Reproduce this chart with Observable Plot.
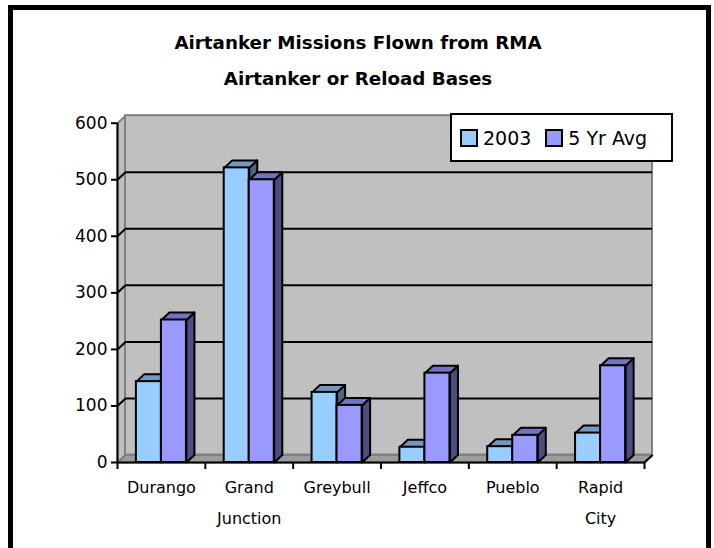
<!DOCTYPE html>
<html>
<head>
<meta charset="utf-8">
<script src="https://cdn.jsdelivr.net/npm/d3@7"></script>
<script src="https://cdn.jsdelivr.net/npm/@observablehq/plot@0.6"></script>
<style>
  body { margin: 0; background: #fff; }
  #wrap { position: relative; width: 714px; height: 548px; overflow: hidden; font-family: 'Comic Sans MS', 'DejaVu Sans', sans-serif; }
  #border { position: absolute; left: 8px; top: 5px; width: 693px; height: 600px; border: 5px solid #000; box-sizing: content-box; }
  #title { position: absolute; left: 0; width: 716px; top: 25px; text-align: center; font-weight: bold; font-size: 18.3px; line-height: 36px; color: #000; }
  #chart { position: absolute; left: 0; top: 0; }
  #legend { position: absolute; left: 450px; top: 113px; width: 219px; height: 45px; border: 2px solid #000; background: #fff; display: flex; align-items: center; font-size: 19px; }
  .sw { display: inline-block; width: 14px; height: 14px; border: 2px solid #000; margin-right: 5px; }
</style>
</head>
<body>
<div id="wrap">
  <div id="border"></div>
  <div id="title">Airtanker Missions Flown from RMA<br>Airtanker or Reload Bases</div>
  <div id="chart"></div>
  <div id="legend">
    <span class="sw" style="background:#99CCFF;margin-left:8px"></span><span>2003</span>
    <span class="sw" style="background:#9999FF;margin-left:14px"></span><span>5 Yr Avg</span>
  </div>
</div>
<script>
// ---- data ----
const categories = ["Durango", "Grand\nJunction", "Greybull", "Jeffco", "Pueblo", "Rapid\nCity"];
const series = ["2003", "5 Yr Avg"];
const values2003 = [143, 521, 124, 27, 28, 52];
const valuesAvg = [252, 500, 101, 158, 48, 171];
const yTicks = [0, 100, 200, 300, 400, 500, 600];

// ---- layout ----
const W = 714, H = 548;
const padL = 117, padR = 644, padB = 462, padT = 122.7;
const kx = (padR - padL) / categories.length;
const ky = (padB - padT) / 600;
const DX = 8 / kx;      // depth offset in x units
const DY = 7.5 / ky;    // depth offset in y units
const barW = 0.285;

const colors = {
  "2003": {front: "#99CCFF", top: "#7399BF", side: "#4D6680"},
  "5 Yr Avg": {front: "#9999FF", top: "#7373BF", side: "#4D4D80"}
};

const bars = [];
categories.forEach((c, i) => {
  bars.push({cat: c, s: "2003", x1: i + 0.5 - barW, x2: i + 0.5, v: values2003[i]});
  bars.push({cat: c, s: "5 Yr Avg", x1: i + 0.5, x2: i + 0.5 + barW, v: valuesAvg[i]});
});

function polys(list, fn) {
  const out = [];
  list.forEach((b, k) => fn(b).forEach(([x, y]) => out.push({k, x, y, s: b.s})));
  return out;
}
const topPts = polys(bars, b => [[b.x1, b.v], [b.x2, b.v], [b.x2 + DX, b.v + DY], [b.x1 + DX, b.v + DY], [b.x1, b.v]]);
const sidePts = polys(bars, b => [[b.x2, 0], [b.x2, b.v], [b.x2 + DX, b.v + DY], [b.x2 + DX, DY], [b.x2, 0]]);
const sideWall = [[0, 0], [0, 600], [DX, 600 + DY], [DX, DY], [0, 0]].map(([x, y]) => ({x, y}));
const floorPts = [[0, 0], [6, 0], [6 + DX, DY], [DX, DY], [0, 0]].map(([x, y]) => ({x, y}));

const faceMarks = [];
for (const s of series) {
  faceMarks.push(Plot.line(sidePts.filter(d => d.s === s), {x: "x", y: "y", z: "k", fill: colors[s].side, stroke: "#000", strokeWidth: 2, strokeLinejoin: "round"}));
}
for (const s of series) {
  faceMarks.push(Plot.line(topPts.filter(d => d.s === s), {x: "x", y: "y", z: "k", fill: colors[s].top, stroke: "#000", strokeWidth: 2, strokeLinejoin: "round"}));
}
for (const s of series) {
  faceMarks.push(Plot.rect(bars.filter(d => d.s === s), {x1: "x1", x2: "x2", y1: 0, y2: "v", fill: colors[s].front, stroke: "#000", strokeWidth: 2, inset: 0}));
}

const chart = Plot.plot({
  width: W, height: H,
  marginLeft: padL, marginRight: W - padR, marginTop: padT, marginBottom: H - padB,
  style: {background: "transparent", overflow: "visible", fontFamily: "'Comic Sans MS', 'DejaVu Sans', sans-serif", color: "#000"},
  x: {domain: [0, categories.length], axis: null},
  y: {domain: [0, 600], axis: null},
  marks: [
    Plot.line(sideWall, {x: "x", y: "y", fill: "#C0C0C0", stroke: "#808080", strokeWidth: 2}),
    Plot.line(floorPts, {x: "x", y: "y", fill: "#9C9C9C", stroke: "#808080", strokeWidth: 2}),
    Plot.rect([0], {x1: DX, x2: 6 + DX, y1: DY, y2: 600 + DY, fill: "#C0C0C0", stroke: "#808080", strokeWidth: 2}),
    Plot.ruleY(yTicks.filter(v => v > 0 && v < 600), {y: d => d + DY, x1: DX, x2: 6 + DX, stroke: "#000", strokeWidth: 2}),
    Plot.link(yTicks.filter(v => v > 0 && v < 600), {x1: 0, y1: d => d, x2: DX, y2: d => d + DY, stroke: "#000", strokeWidth: 2}),
    ...faceMarks,
    Plot.ruleX([0], {y1: 0, y2: 600, stroke: "#000", strokeWidth: 2}),
    Plot.ruleY([0], {x1: 0, x2: 6, stroke: "#000", strokeWidth: 2}),
    Plot.link([6], {x1: d => d, y1: 0, x2: d => d + DX, y2: DY, stroke: "#000", strokeWidth: 2}),
    Plot.axisY({ticks: yTicks, tickSize: 6, tickPadding: 4, fontSize: 17, strokeWidth: 2, label: null}),
    Plot.axisX({ticks: d3.range(categories.length + 1), tickSize: 7, strokeWidth: 2, tickFormat: () => "", label: null}),
    Plot.text(categories, {x: (d, i) => i + 0.5, y: 0, dy: 8, lineAnchor: "top", fontSize: 16, lineHeight: 1.95, fill: "#000"})
  ]
});
document.getElementById("chart").appendChild(chart);
</script>
</body>
</html>
